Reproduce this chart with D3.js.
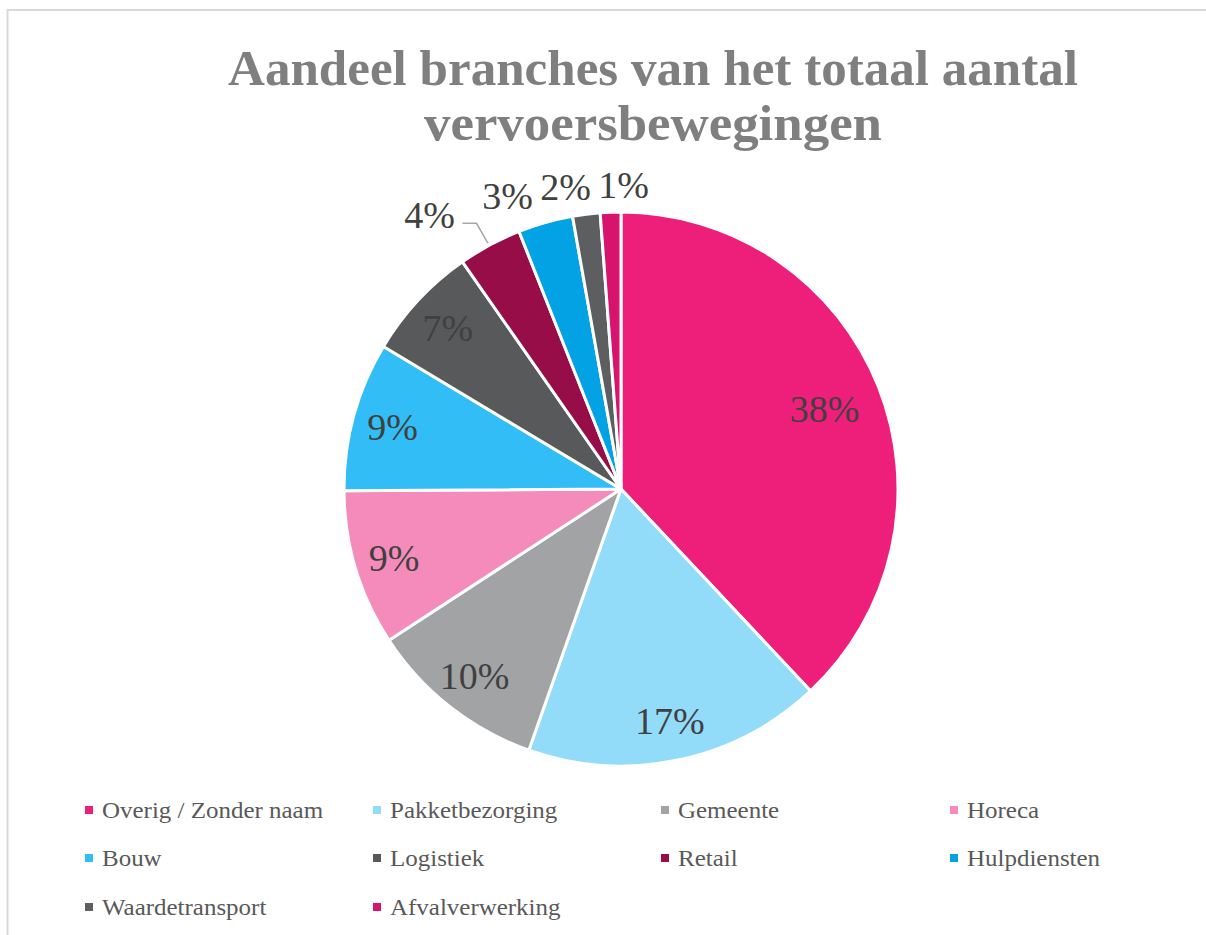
<!DOCTYPE html>
<html>
<head>
<meta charset="utf-8">
<script src="https://cdn.jsdelivr.net/npm/d3@7"></script>
<style>
  html, body { margin: 0; padding: 0; background: #ffffff; }
  svg { display: block; }
</style>
</head>
<body>
<svg id="chart" width="1206" height="935"></svg>
<script>
// ---- Data ----
const titleLines = ["Aandeel branches van het totaal aantal", "vervoersbewegingen"];
const categories = ["Overig / Zonder naam", "Pakketbezorging", "Gemeente", "Horeca", "Bouw",
                    "Logistiek", "Retail", "Hulpdiensten", "Waardetransport", "Afvalverwerking"];
const values = [38.0, 17.4, 10.4, 9.1, 8.7, 6.7, 3.7, 3.2, 1.6, 1.2];
const colors = ["#EE1F7A", "#92DBF9", "#A2A3A5", "#F58BBA", "#32BDF6",
                "#58595B", "#960D47", "#03A2E4", "#5D5E60", "#D6146E"];

// ---- Layout ----
const cx = 621, cy = 489, R = 277;
const svg = d3.select("#chart");

// chart border
svg.append("rect")
  .attr("x", 7.5).attr("y", 10).attr("width", 1230).attr("height", 1000)
  .attr("fill", "none").attr("stroke", "#d9d9d9").attr("stroke-width", 2);

// title
const titleG = svg.append("g");
const titleTargets = [{y: 85, w: 850}, {y: 140, w: 458}];
titleLines.forEach((t, i) => {
  titleG.append("text")
    .attr("x", 653).attr("y", titleTargets[i].y)
    .attr("text-anchor", "middle")
    .attr("font-family", "'Liberation Serif', 'DejaVu Serif', serif")
    .attr("font-weight", "bold")
    .attr("font-size", 50)
    .attr("fill", "#7f7f7f")
    .attr("textLength", titleTargets[i].w)
    .attr("lengthAdjust", "spacingAndGlyphs")
    .text(t);
});

// pie
const pie = d3.pie().sort(null).value(d => d.value).startAngle(0).endAngle(2 * Math.PI);
const data = categories.map((c, i) => ({name: c, value: values[i], color: colors[i]}));
const arcs = pie(data);
const arc = d3.arc().innerRadius(0).outerRadius(R);

const g = svg.append("g").attr("transform", `translate(${cx},${cy})`);
g.selectAll("path.slice")
  .data(arcs)
  .join("path")
  .attr("class", "slice")
  .attr("d", arc)
  .attr("fill", d => d.data.color)
  .attr("stroke", "#ffffff")
  .attr("stroke-width", 3)
  .attr("stroke-linejoin", "round");

// labels
const labelFont = 38;
const fmt = v => Math.round(v) + "%";
const inside = arcs.filter(d => d.data.value >= 5);
const outside = arcs.filter(d => d.data.value < 5);

g.selectAll("text.in")
  .data(inside)
  .join("text")
  .attr("class", "in")
  .attr("transform", d => {
    const a = (d.startAngle + d.endAngle) / 2;
    const rr = (d.data.value > 30 ? 0.79 : 0.855) * R;
    return `translate(${rr * Math.sin(a)},${-rr * Math.cos(a)})`;
  })
  .attr("dy", "0.35em")
  .attr("text-anchor", "middle")
  .attr("font-family", "'Liberation Serif', 'DejaVu Serif', serif")
  .attr("font-size", labelFont)
  .attr("fill", "#404040")
  .text(d => fmt(d.data.value));

// outside labels: natural positions, then spread leftwards from the rightmost one
const outR = R + 28;
const outs = outside.map(d => {
  const a = (d.startAngle + d.endAngle) / 2;
  return {d, a, nx: outR * Math.sin(a), ny: -outR * Math.cos(a)};
}).sort((p, q) => q.a - p.a);
const spacing = 58;
outs.forEach((o, i) => {
  if (i === 0) { o.x = o.nx + 14; }
  else { o.x = Math.min(o.nx, outs[i - 1].x - spacing); }
  o.y = o.ny;
  o.leader = (i === outs.length - 1) && (o.nx - o.x) > 20;
  if (o.leader) { o.x -= 20; o.y -= 6; }
});

g.selectAll("text.out")
  .data(outs)
  .join("text")
  .attr("class", "out")
  .attr("x", o => o.x).attr("y", o => o.y)
  .attr("dy", "0.35em")
  .attr("text-anchor", "middle")
  .attr("font-family", "'Liberation Serif', 'DejaVu Serif', serif")
  .attr("font-size", labelFont)
  .attr("fill", "#404040")
  .text(o => fmt(o.d.data.value));

outs.filter(o => o.leader).forEach(o => {
  const half = 25;
  const ex = R * Math.sin(o.a), ey = -R * Math.cos(o.a);
  const lx = o.x + half + 8, ly = o.y + 9;
  g.append("polyline")
    .attr("points", `${lx},${ly} ${lx + 14},${ly} ${ex - 2},${ey - 2}`)
    .attr("fill", "none")
    .attr("stroke", "#a6a6a6")
    .attr("stroke-width", 1.5);
});

// legend
const colX = [85, 373, 661, 950];
const rowY = [810, 858, 907];
const legend = svg.append("g");
const items = legend.selectAll("g.item")
  .data(data)
  .join("g")
  .attr("class", "item")
  .attr("transform", (d, i) => `translate(${colX[i % 4]},${rowY[Math.floor(i / 4)]})`);
items.append("rect")
  .attr("x", 0).attr("y", -4).attr("width", 8).attr("height", 8)
  .attr("fill", d => d.color);
items.append("text")
  .attr("x", 17).attr("y", 0).attr("dy", "0.35em")
  .attr("font-family", "'Liberation Serif', 'DejaVu Serif', serif")
  .attr("font-size", 24)
  .attr("fill", "#595959")
  .text(d => d.name)
  .each(function() {
    const w = this.getComputedTextLength();
    d3.select(this).attr("textLength", w * 1.04).attr("lengthAdjust", "spacingAndGlyphs");
  });
</script>
</body>
</html>
